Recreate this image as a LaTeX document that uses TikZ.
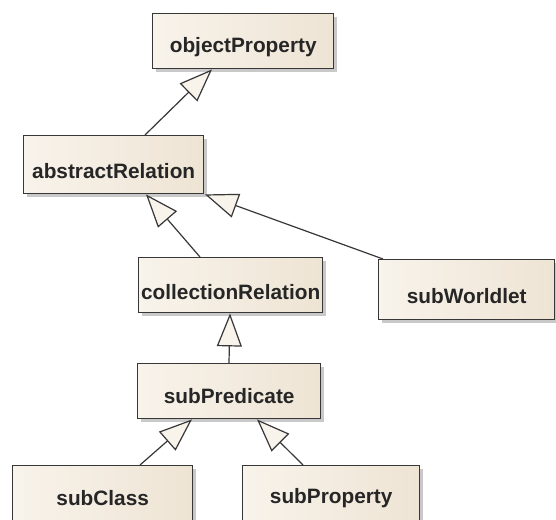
\documentclass[tikz,border=0pt]{standalone}
\usepackage{fontspec}
\setmainfont{Liberation Sans}
\usetikzlibrary{arrows.meta,shadows,calc}
\definecolor{boxl}{RGB}{248,243,235}
\definecolor{boxr}{RGB}{238,228,212}
\definecolor{edge}{RGB}{55,55,55}
\tikzset{
  cls/.style={draw=edge, line width=1.4pt, left color=boxl, right color=boxr,
    drop shadow={shadow xshift=3pt, shadow yshift=-3pt, opacity=0.35, fill=black!60},
    anchor=north west, inner sep=0pt},
  lbl/.style={font=\fontsize{20.8}{23}\selectfont\bfseries, text=black!85, inner sep=0pt},
  gen/.style={draw=edge, line width=1.2pt, -{Triangle[fill=boxl, length=33pt, width=25pt, line width=1.2pt]}}
}
\begin{document}
\begin{tikzpicture}[x=1pt,y=-1pt]
\clip (0,0) rectangle (556,519);
\fill[white] (0,0) rectangle (556,519);
% boxes
\node[cls, minimum width=181pt, minimum height=55pt] (op) at (152,13) {};
\node[cls, minimum width=180pt, minimum height=58pt] (ar) at (23,135) {};
\node[cls, minimum width=184pt, minimum height=55pt] (cr) at (138,257) {};
\node[cls, minimum width=176pt, minimum height=60pt] (sw) at (378,259) {};
\node[cls, minimum width=183pt, minimum height=55pt] (sp) at (137,363) {};
\node[cls, minimum width=180pt, minimum height=60pt] (sc) at (12,465) {};
\node[cls, minimum width=177pt, minimum height=60pt] (sx) at (242,465) {};
% labels
\node[lbl, yshift=-6pt] (opl) at (op.center) {objectProperty};
\node[lbl, yshift=-6pt] (arl) at (ar.center) {abstractRelation};
\node[lbl, yshift=-7pt] (crl) at (cr.center) {collectionRelation};
\node[lbl, yshift=-6pt] (swl) at (sw.center) {subWorldlet};
\node[lbl, yshift=-5pt] (spl) at (sp.center) {subPredicate};
\node[lbl, yshift=-2pt] (scl) at (sc.center) {subClass};
\node[lbl, yshift=-2pt] (sxl) at (sx.center) {subProperty};
% connectors
\draw[gen] ([xshift=122pt]ar.north west) -- ([xshift=60pt]op.south west);
\draw[gen] ([xshift=62pt]cr.north west) -- ([xshift=123pt]ar.south west);
\draw[gen] ([xshift=5pt]sw.north west) -- ([xshift=182pt]ar.south west);
\draw[gen] ([xshift=92pt]sp.north west) -- ([xshift=92pt]cr.south west);
\draw[gen] ([xshift=128pt]sc.north west) -- ([xshift=55pt]sp.south west);
\draw[gen] ([xshift=61pt]sx.north west) -- ([xshift=120pt]sp.south west);
\end{tikzpicture}
\end{document}
